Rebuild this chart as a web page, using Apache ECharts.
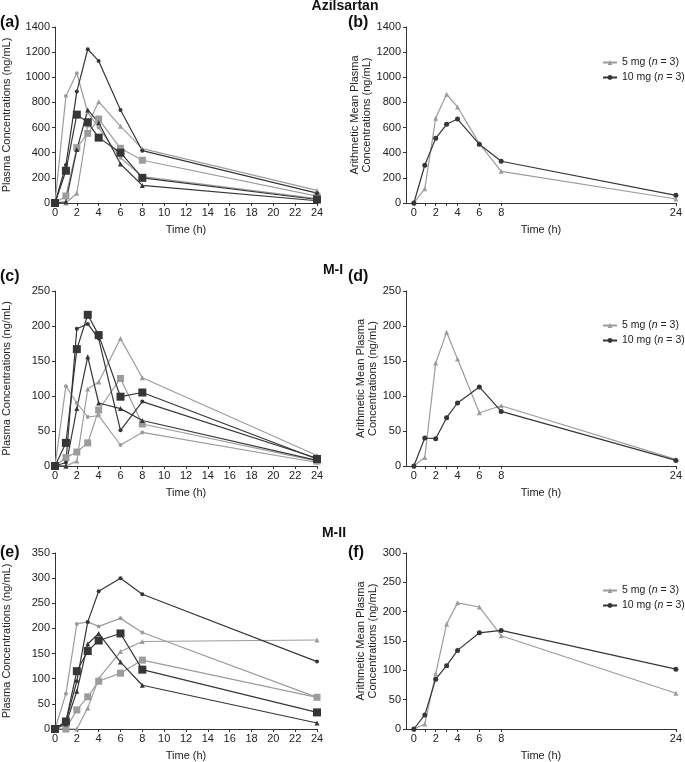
<!DOCTYPE html>
<html>
<head>
<meta charset="utf-8">
<script src="https://cdn.jsdelivr.net/npm/echarts@6/dist/echarts.min.js"></script>
<style>
html,body{margin:0;padding:0;background:#fff;}
#chart{width:685px;height:762px;}
</style>
</head>
<body>
<div id="chart"></div>
<script>
// ---- data ----
const timeHours = [0, 1, 2, 3, 4, 6, 8, 24];
const leftTickLabels = [0, 2, 4, 6, 8, 10, 12, 14, 16, 18, 20, 22, 24];
const rightTickLabels = [0, 2, 4, 6, 8, 24];
const rightTickMarks = [0, 1, 2, 3, 4, 6, 8, 24];
const panelTitles = ['Azilsartan', 'M-I', 'M-II'];
const panelLetters = ['(a)', '(b)', '(c)', '(d)', '(e)', '(f)'];
const legendNames = ['5 mg (n = 3)', '10 mg (n = 3)'];

// Azilsartan individual
const azlLightCircle   = [0, 851, 1032, 720, 600, 360, 210, 35];
const azlLightSquare   = [0, 56, 440, 554, 668, 435, 340, 55];
const azlLightTriangle = [0, 0, 77, 620, 806, 610, 432, 100];
const azlDarkCircle    = [0, 302, 886, 1223, 1130, 740, 416, 78];
const azlDarkSquare    = [0, 257, 703, 642, 520, 400, 200, 28];
const azlDarkTriangle  = [0, 10, 425, 740, 639, 310, 140, 18];
// M-I individual
const m1LightCircle   = [0, 114, 90, 70, 72, 30, 48, 5];
const m1LightTriangle = [0, 0, 7, 110, 120, 182, 126, 15];
const m1LightSquare   = [0, 12, 20, 33, 80, 125, 60, 7];
const m1DarkSquare    = [0, 33, 167, 216, 187, 99, 105, 10];
const m1DarkCircle    = [0, 5, 196, 203, 182, 51, 92, 11];
const m1DarkTriangle  = [0, 0, 82, 156, 90, 82, 65, 8];
// M-II individual
const m2LightCircle   = [0, 70, 209, 213, 204, 220, 192, 63];
const m2LightTriangle = [0, 0, 0, 42, 100, 154, 174, 177];
const m2LightSquare   = [0, 0, 38, 64, 95, 111, 137, 63];
const m2DarkCircle    = [0, 15, 95, 213, 274, 300, 268, 134];
const m2DarkSquare    = [0, 15, 115, 155, 176, 190, 118, 33];
const m2DarkTriangle  = [0, 10, 75, 169, 190, 133, 87, 12];
// means
const azl5mgMean  = [0, 114, 674, 865, 764, 472, 252, 32];
const azl10mgMean = [0, 300, 515, 626, 668, 467, 332, 61];
const m1_5mgMean  = [0, 12, 147, 191, 153, 76, 86, 9.5];
const m1_10mgMean = [0, 40, 39, 69, 90, 113, 78, 8];
const m2_5mgMean  = [0, 8.5, 94, 179, 215, 208, 159, 61];
const m2_10mgMean = [0, 24, 85, 108, 134, 164, 168, 102];

const yMax = [1400, 250, 350, 300]; // a/b, c/d, e, f
const yStep = [200, 50, 50, 50];

// ---- styling ----
const FONT = '"Liberation Sans", Arial, sans-serif';
const LIGHT = '#9c9c9c';
const DARK = '#363636';
const AXIS = '#333';

const rows = [
  {top: 27, height: 176},
  {top: 291, height: 175},
  {top: 553, height: 178}
];

const grids = [];
const xAxes = [];
const yAxes = [];
rows.forEach((r) => {
  grids.push({left: 53, width: 264, top: r.top, height: r.height});
  grids.push({left: 406, width: 273, top: r.top, height: r.height});
});

function zip(vals){ return timeHours.map((t, i) => [t, vals[i]]); }

const axisLineStyle = {show: true, onZero: false, lineStyle: {color: AXIS, width: 1}};
const labelStyle = {color: '#222', fontSize: 11, fontFamily: FONT};

for (let g = 0; g < 6; g++) {
  const isRight = g % 2 === 1;
  const row = Math.floor(g / 2);
  if (!isRight) {
    xAxes.push({
      type: 'value', gridIndex: g, min: 0, max: 24, interval: 2,
      name: 'Time (h)', nameLocation: 'middle', nameGap: 21,
      nameTextStyle: {color: '#222', fontSize: 11, fontFamily: FONT},
      axisLine: axisLineStyle,
      axisTick: {show: true, inside: false, length: 3, lineStyle: {color: AXIS}},
      axisLabel: Object.assign({margin: 4, formatter: (v) => leftTickLabels.indexOf(v) >= 0 ? String(v) : ''}, labelStyle),
      splitLine: {show: false}
    });
  } else {
    xAxes.push({
      type: 'value', gridIndex: g, min: -0.72, max: 24,
      name: 'Time (h)', nameLocation: 'middle', nameGap: 21,
      nameTextStyle: {color: '#222', fontSize: 11, fontFamily: FONT},
      axisLine: axisLineStyle,
      axisTick: {show: true, inside: false, length: 3, lineStyle: {color: AXIS}, customValues: rightTickMarks},
      axisLabel: Object.assign({margin: 4, customValues: rightTickLabels, formatter: (v) => String(v)}, labelStyle),
      splitLine: {show: false}
    });
  }
  let yi = row;
  if (row === 2 && isRight) yi = 3;
  yAxes.push({
    type: 'value', gridIndex: g, min: 0, max: yMax[yi], interval: yStep[yi],
    name: isRight ? 'Arithmetic Mean Plasma\nConcentrations (ng/mL)' : 'Plasma Concentrations (ng/mL)',
    nameLocation: 'middle', nameGap: isRight ? 25 : 42, nameRotate: 90,
    nameTextStyle: {color: '#222', fontSize: 11, fontFamily: FONT, lineHeight: 12},
    axisLine: axisLineStyle,
    axisTick: {show: true, inside: false, length: 3, lineStyle: {color: AXIS}},
    axisLabel: Object.assign({margin: 5, formatter: (v) => String(v)}, labelStyle),
    splitLine: {show: false}
  });
}

function indiv(g, vals, color, symbol, size){
  return {
    type: 'line', xAxisIndex: g, yAxisIndex: g, data: zip(vals),
    symbol: symbol, symbolSize: size, showSymbol: true,
    lineStyle: {color: color, width: 1.2},
    itemStyle: {color: color},
    animation: false, silent: true
  };
}
function meanSeries(g, name, vals, color, symbol, size){
  const s = indiv(g, vals, color, symbol, size);
  s.name = name;
  return s;
}

const series = [
  // (a)
  indiv(0, azlLightCircle, LIGHT, 'circle', 4),
  indiv(0, azlLightSquare, LIGHT, 'rect', 7),
  indiv(0, azlLightTriangle, LIGHT, 'triangle', 5),
  indiv(0, azlDarkTriangle, DARK, 'triangle', 5),
  indiv(0, azlDarkSquare, DARK, 'rect', 8),
  indiv(0, azlDarkCircle, DARK, 'circle', 4),
  // (b)
  meanSeries(1, legendNames[0], azl5mgMean, LIGHT, 'triangle', 5),
  meanSeries(1, legendNames[1], azl10mgMean, DARK, 'circle', 5),
  // (c)
  indiv(2, m1LightCircle, LIGHT, 'circle', 4),
  indiv(2, m1LightSquare, LIGHT, 'rect', 7),
  indiv(2, m1LightTriangle, LIGHT, 'triangle', 5),
  indiv(2, m1DarkTriangle, DARK, 'triangle', 5),
  indiv(2, m1DarkCircle, DARK, 'circle', 4),
  indiv(2, m1DarkSquare, DARK, 'rect', 8),
  // (d)
  meanSeries(3, legendNames[0], m1_5mgMean, LIGHT, 'triangle', 5),
  meanSeries(3, legendNames[1], m1_10mgMean, DARK, 'circle', 5),
  // (e)
  indiv(4, m2LightCircle, LIGHT, 'circle', 4),
  indiv(4, m2LightSquare, LIGHT, 'rect', 7),
  indiv(4, m2LightTriangle, LIGHT, 'triangle', 5),
  indiv(4, m2DarkTriangle, DARK, 'triangle', 5),
  indiv(4, m2DarkSquare, DARK, 'rect', 8),
  indiv(4, m2DarkCircle, DARK, 'circle', 4),
  // (f)
  meanSeries(5, legendNames[0], m2_5mgMean, LIGHT, 'triangle', 5),
  meanSeries(5, legendNames[1], m2_10mgMean, DARK, 'circle', 5)
];

const legendTops = [55, 318, 583];
const legends = legendTops.map((t) => ({
  data: legendNames, orient: 'vertical', left: 600, top: t,
  itemWidth: 14, itemHeight: 6, itemGap: 4, padding: [2, 0, 2, 2], selectedMode: false,
  formatter: (name) => {
    const m = name.match(/^(.*)\(n = 3\)$/);
    return '{a|' + m[1] + '(}{i|n}{a| = 3)}';
  },
  textStyle: {
    fontFamily: FONT, fontSize: 10.5, color: '#222',
    rich: {
      a: {fontFamily: FONT, fontSize: 10.5, color: '#222'},
      i: {fontFamily: FONT, fontSize: 10.5, color: '#222', fontStyle: 'italic'}
    }
  }
}));

const graphics = [];
const titleX = [345, 333, 334];
const titleY = [6, 270, 533];
panelTitles.forEach((t, i) => {
  graphics.push({type: 'text', style: {text: t, x: titleX[i], y: titleY[i], textAlign: 'center', textVerticalAlign: 'middle', font: 'bold 14px ' + FONT, fill: '#111'}});
});
const letterPos = [[0, 23], [348, 23], [0, 277], [348, 277], [0, 553], [348, 553]];
panelLetters.forEach((t, i) => {
  graphics.push({type: 'text', style: {text: t, x: letterPos[i][0], y: letterPos[i][1], textAlign: 'left', textVerticalAlign: 'middle', font: 'bold 16px ' + FONT, fill: '#111'}});
});

const chart = echarts.init(document.getElementById('chart'), null, {renderer: 'canvas'});
chart.setOption({
  backgroundColor: '#fff',
  animation: false,
  grid: grids,
  xAxis: xAxes,
  yAxis: yAxes,
  legend: legends,
  series: series,
  graphic: graphics
});
</script>
</body>
</html>
